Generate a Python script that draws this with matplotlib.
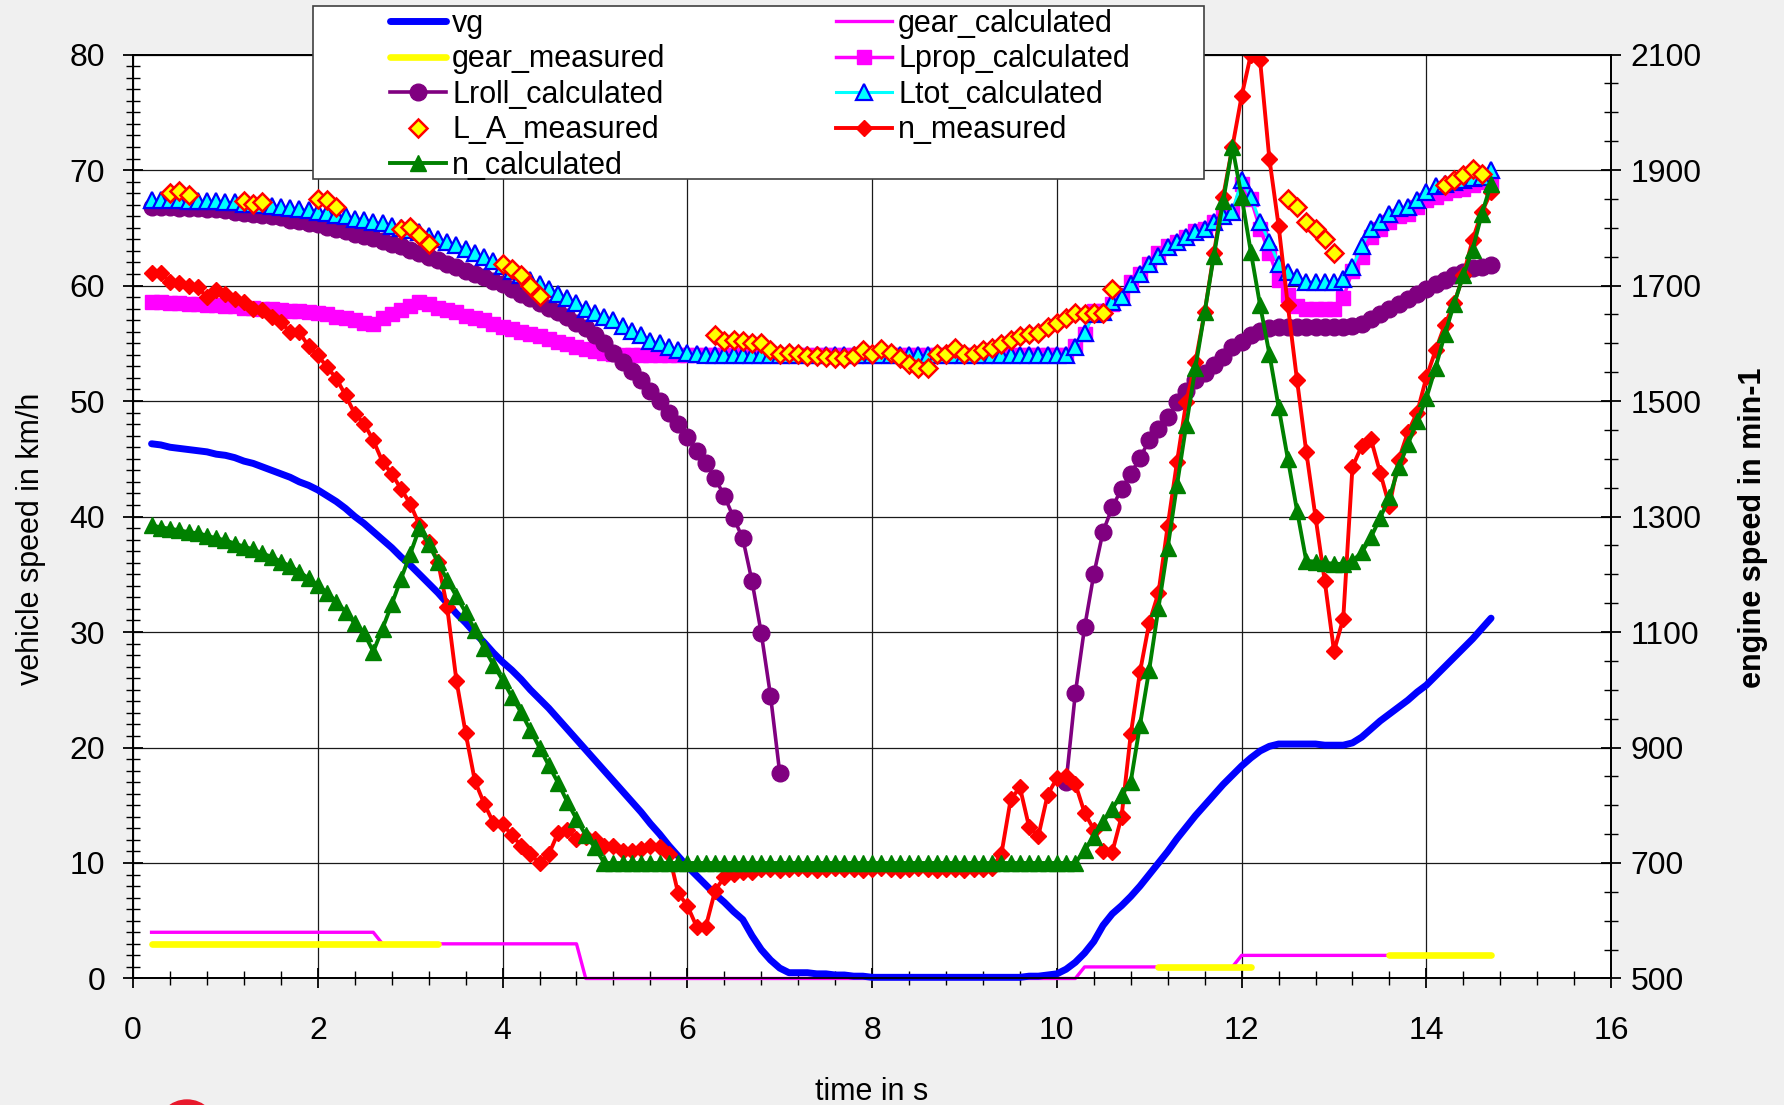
import numpy as np
import matplotlib
matplotlib.use("Agg")
import matplotlib.pyplot as plt
from matplotlib.ticker import MultipleLocator
from matplotlib.patches import Rectangle, Ellipse

plt.rcParams['font.family'] = ['Liberation Sans', 'DejaVu Sans']

nan = np.nan

# sample grid: 0.1 s steps from 0.2 s to 14.7 s
time = np.round(np.arange(0.2, 14.75, 0.1), 1)

# vehicle speed in km/h
vg = [46.3, 46.2, 46.0, 45.9, 45.8, 45.7, 45.6, 45.4, 45.3, 45.1,
      44.8, 44.6, 44.3, 44.0, 43.7, 43.4, 43.0, 42.7, 42.3, 41.8,
      41.3, 40.7, 40.0, 39.4, 38.7, 38.0, 37.3, 36.5, 35.8, 35.0,
      34.2, 33.4, 32.5, 31.6, 30.8, 29.9, 29.1, 28.2, 27.4, 26.7,
      25.9, 25.0, 24.2, 23.4, 22.5, 21.6, 20.7, 19.8, 18.9, 18.0,
      17.1, 16.2, 15.3, 14.4, 13.4, 12.5, 11.5, 10.6, 9.7, 8.9,
      8.1, 7.3, 6.6, 5.8, 5.1, 3.7, 2.5, 1.6, 0.9, 0.5,
      0.5, 0.5, 0.4, 0.4, 0.3, 0.3, 0.2, 0.2, 0.1, 0.1,
      0.1, 0.1, 0.1, 0.1, 0.1, 0.1, 0.1, 0.1, 0.1, 0.1,
      0.1, 0.1, 0.1, 0.1, 0.1, 0.2, 0.2, 0.3, 0.4, 0.8,
      1.4, 2.2, 3.2, 4.6, 5.6, 6.3, 7.1, 8.0, 9.0, 10.0,
      11.0, 12.1, 13.1, 14.1, 15.0, 15.9, 16.8, 17.6, 18.4, 19.1,
      19.7, 20.1, 20.3, 20.3, 20.3, 20.3, 20.3, 20.2, 20.2, 20.2,
      20.4, 20.9, 21.6, 22.3, 22.9, 23.5, 24.1, 24.8, 25.4, 26.2,
      27.0, 27.8, 28.6, 29.4, 30.3, 31.2]

gear_calculated = [4] * 25 + [3] * 22 + [0] * 54 + [1] * 17 + [2] * 28
gear_measured = [3] * 32 + [nan] * 77 + [1] * 11 + [nan] * 14 + [2] * 12

Lprop_calculated = [
    58.6, 58.6, 58.5, 58.5, 58.4, 58.4, 58.3, 58.3, 58.2, 58.2,
    58.1, 58.1, 58.0, 58.0, 57.9, 57.8, 57.8, 57.7, 57.6, 57.5,
    57.3, 57.2, 57.0, 56.8, 56.7, 57.2, 57.5, 57.9, 58.2, 58.6,
    58.4, 58.1, 57.9, 57.7, 57.4, 57.2, 57.0, 56.7, 56.4, 56.2,
    56.0, 55.8, 55.6, 55.4, 55.1, 54.9, 54.7, 54.5, 54.3, 54.2,
    54.1, 54.0, 54.0, 54.0, 54.0, 54.0, 54.0, 54.0, 54.0, 54.0] + [54.0] * 40 + [
    54.8, 55.8, 57.8, 57.8, 58.4, 59.2, 60.3, 61.0, 61.9, 62.8,
    63.4, 63.8, 64.2, 64.7, 64.9, 65.5, 66.0, 66.4, 68.8, 67.5,
    64.9, 62.8, 60.5, 59.2, 58.2, 58.0, 58.0, 58.0, 58.0, 58.9,
    61.3, 62.5, 64.2, 64.9, 65.5, 66.0, 66.2, 66.8, 67.4, 67.7,
    68.0, 68.3, 68.4, 68.7, 69.0, 69.0]

Lroll_calculated = [
    66.8, 66.8, 66.8, 66.7, 66.7, 66.7, 66.6, 66.6, 66.5, 66.4,
    66.3, 66.2, 66.1, 66.0, 65.9, 65.7, 65.6, 65.4, 65.3, 65.1,
    64.9, 64.7, 64.5, 64.3, 64.1, 63.9, 63.6, 63.4, 63.1, 62.8,
    62.5, 62.2, 61.9, 61.6, 61.3, 61.0, 60.7, 60.4, 60.1, 59.7,
    59.3, 58.9, 58.5, 58.1, 57.7, 57.3, 56.8, 56.3, 55.7, 55.0,
    54.2, 53.4, 52.6, 51.8, 50.9, 50.0, 49.0, 48.0, 46.9, 45.7,
    44.6, 43.3, 41.8, 39.9, 38.1, 34.4, 29.9, 24.5, 17.8, nan] + [nan] * 29 + [
    17.0,
    24.7, 30.4, 35.0, 38.7, 40.8, 42.4, 43.7, 45.1, 46.6, 47.6,
    48.6, 49.9, 50.9, 51.8, 52.4, 53.1, 53.8, 54.7, 55.1, 55.7,
    56.1, 56.3, 56.4, 56.4, 56.4, 56.4, 56.4, 56.4, 56.4, 56.4,
    56.5, 56.7, 57.1, 57.5, 58.0, 58.4, 58.8, 59.3, 59.7, 60.1,
    60.5, 60.9, 61.2, 61.5, 61.6, 61.8]

Ltot_calculated = [
    67.4, 67.4, 67.4, 67.4, 67.3, 67.3, 67.3, 67.3, 67.2, 67.2,
    67.1, 67.1, 67.0, 66.9, 66.8, 66.7, 66.6, 66.5, 66.4, 66.3,
    66.1, 66.0, 65.8, 65.7, 65.5, 65.4, 65.2, 65.0, 64.8, 64.6,
    64.3, 64.0, 63.8, 63.5, 63.2, 62.8, 62.5, 62.1, 61.7, 61.3,
    60.9, 60.5, 60.1, 59.7, 59.3, 58.9, 58.5, 58.0, 57.6, 57.3,
    57.0, 56.5, 56.1, 55.7, 55.2, 55.0, 54.7, 54.4, 54.2, 54.1] + [54.0] * 40 + [
    54.7, 55.9, 57.5, 57.7, 58.6, 59.0, 60.1, 61.0, 61.9, 62.6,
    63.3, 63.8, 64.2, 64.6, 64.9, 65.5, 66.0, 66.4, 69.1, 67.7,
    65.5, 63.8, 61.9, 61.2, 60.7, 60.3, 60.3, 60.3, 60.3, 60.6,
    61.6, 63.4, 64.9, 65.5, 66.2, 66.7, 66.8, 67.4, 68.1, 68.6,
    68.8, 69.0, 69.1, 69.3, 69.4, 70.0]

L_A_measured = [
    nan, nan, 68.0, 68.2, 67.8, nan, nan, nan, nan, nan,
    67.3, 67.1, 67.2, nan, nan, nan, nan, nan, 67.5, 67.4,
    66.8, nan, nan, nan, nan, nan, nan, 64.9, 65.1, 64.4,
    63.6, nan, nan, nan, nan, nan, nan, nan, 61.9, 61.4,
    60.9, 60.0, 59.1, nan, nan, nan, nan, nan, nan, nan,
    nan, nan, nan, nan, nan, nan, nan, nan, nan, nan,
    nan, 55.7, 55.2, 55.3, 55.2, 55.0, 55.0, 54.4, 54.1, 54.2,
    54.1, 53.9, 53.9, 53.8, 53.7, 53.7, 53.9, 54.4, 54.1, 54.5,
    54.2, 53.7, 53.2, 52.9, 52.9, 54.1, 54.1, 54.6, 54.1, 54.1,
    54.4, 54.6, 54.9, 55.3, 55.6, 55.8, 55.9, 56.4, 56.8, 57.2,
    57.6, 57.5, 57.6, 57.6, 59.7, nan, nan, nan, nan, nan,
    nan, nan, nan, nan, nan, nan, nan, nan, nan, nan,
    nan, nan, nan, 67.5, 66.8, 65.5, 64.9, 64.0, 62.8, nan,
    nan, nan, nan, nan, nan, nan, nan, nan, nan, nan,
    68.7, 69.1, 69.6, 70.1, 69.7, nan]

# engine speed in min-1
n_measured = [
    1722, 1722, 1706, 1704, 1700, 1697, 1680, 1693, 1686, 1677,
    1671, 1660, 1657, 1646, 1637, 1619, 1619, 1595, 1579, 1559,
    1539, 1510, 1478, 1461, 1432, 1395, 1374, 1348, 1322, 1285,
    1256, 1222, 1143, 1016, 925, 842, 803, 770, 768, 748,
    730, 715, 700, 715, 752, 757, 742, 745, 742, 730,
    730, 721, 721, 724, 730, 728, 716, 648, 626, 590,
    590, 652, 676, 681, 684, 684, 690, 690, 688, 690,
    692, 690, 688, 690, 692, 690, 690, 688, 690, 692,
    690, 688, 690, 692, 690, 688, 690, 690, 688, 690,
    690, 692, 716, 810, 831, 762, 747, 818, 847, 850,
    837, 787, 758, 721, 719, 780, 923, 1031, 1116, 1168,
    1284, 1394, 1498, 1568, 1654, 1756, 1854, 1940, 2028, 2100,
    2090, 1920, 1804, 1666, 1536, 1412, 1299, 1188, 1067, 1123,
    1386, 1422, 1434, 1376, 1318, 1398, 1446, 1480, 1541, 1588,
    1632, 1669, 1718, 1779, 1827, 1862]

n_calculated = [
    1285, 1281, 1279, 1276, 1273, 1271, 1267, 1262, 1259, 1253,
    1248, 1243, 1236, 1230, 1222, 1214, 1204, 1193, 1181, 1168,
    1152, 1135, 1115, 1098, 1066, 1106, 1148, 1192, 1235, 1280,
    1252, 1221, 1190, 1162, 1134, 1104, 1072, 1043, 1017, 988,
    961, 930, 900, 869, 839, 806, 776, 748, 727, 700] + [700] * 50 + [
    700, 722, 745, 771, 794, 818, 841, 939, 1035, 1142,
    1246, 1354, 1458, 1558, 1654, 1752, 1846, 1940, 1854, 1758,
    1666, 1582, 1490, 1400, 1310, 1223, 1222, 1220, 1218, 1218,
    1223, 1238, 1264, 1298, 1333, 1385, 1425, 1465, 1505, 1558,
    1616, 1668, 1718, 1762, 1824, 1876]

rpm_ticks = [500, 700, 900, 1100, 1300, 1500, 1700, 1900, 2100]

fig = plt.figure(figsize=(17.84, 11.05), dpi=100, facecolor='#f0f0f0')
ax = fig.add_axes([0.0746, 0.1145, 0.8285, 0.8361])
ax.set_facecolor('white')

# gear and speed lines sit on the bottom spine, so draw them over it
h_vg, = ax.plot(time, vg, color='#0000ff', lw=5, solid_capstyle='round', label='vg',
                clip_on=False, zorder=2.7)
h_gc, = ax.plot(time, gear_calculated, color='#ff00ff', lw=2.4, label='gear_calculated',
                clip_on=False, zorder=2.6)
h_gm, = ax.plot(time, gear_measured, color='#ffff00', lw=4.8, solid_capstyle='round',
                label='gear_measured', zorder=2.65)
h_lp, = ax.plot(time, Lprop_calculated, color='#ff00ff', lw=2.5, marker='s', ms=10,
                label='Lprop_calculated')
h_lr, = ax.plot(time, Lroll_calculated, color='#800080', lw=2.6, marker='o', ms=12,
                label='Lroll_calculated')
h_lt, = ax.plot(time, Ltot_calculated, color='#00ffff', lw=2.2, marker='^', ms=11,
                mfc='#00ffff', mec='#0000ff', mew=1.6, label='Ltot_calculated')
h_la, = ax.plot(time, L_A_measured, ls='none', marker='D', ms=9.5, mfc='#ffff00',
                mec='#ff0000', mew=1.8, label='L_A_measured')

ax.set_xlim(0, 16)
ax.set_ylim(0, 80)
ax.xaxis.set_major_locator(MultipleLocator(2))
ax.xaxis.set_minor_locator(MultipleLocator(0.4))
ax.yaxis.set_major_locator(MultipleLocator(10))
ax.yaxis.set_minor_locator(MultipleLocator(1))
ax.grid(True, which='major', color='#1a1a1a', lw=0.9)
for s in ax.spines.values():
    s.set_color('black')
    s.set_linewidth(1.3)
ax.tick_params(which='major', direction='inout', length=14, width=1.3, labelsize=23)
ax.tick_params(which='minor', direction='inout', length=10, width=1.0)
ax.tick_params(axis='x', pad=20)
ax.tick_params(axis='y', pad=13)

ax2 = ax.twinx()
h_nm, = ax2.plot(time, n_measured, color='#ff0000', lw=2.8, marker='D', ms=8.5,
                 label='n_measured')
h_nc, = ax2.plot(time, n_calculated, color='#008000', lw=2.8, marker='^', ms=11,
                 label='n_calculated')
ax2.set_ylim(500, 2100)
ax2.set_yticks(rpm_ticks)
ax2.yaxis.set_minor_locator(MultipleLocator(50))
ax2.tick_params(which='major', direction='inout', length=14, width=1.3, labelsize=23, pad=7)
ax2.tick_params(which='minor', direction='inout', length=10, width=1.0)
for s in ax2.spines.values():
    s.set_color('black')
    s.set_linewidth(1.3)

ax.set_xlabel('time in s', fontsize=22)
ax.xaxis.set_label_coords(0.5, -0.1229)
ax.xaxis.label.set_va('center')
ax.set_ylabel('vehicle speed in km/h', fontsize=22)
ax.yaxis.set_label_coords(-0.0693, 0.476)
ax.yaxis.label.set_va('center')
ax2.set_ylabel('engine speed in min-1', fontsize=22, fontweight='bold')
ax2.yaxis.set_label_coords(1.096, 0.488)
ax2.yaxis.label.set_va('center')

# legend box drawn by hand, two columns placed inside it
fig.add_artist(Rectangle((0.1754, 0.8384), 0.4994, 0.1565, transform=fig.transFigure,
                         facecolor='white', edgecolor='#404040', lw=1.2, zorder=4))
leg_kw = dict(loc='upper left', frameon=False, fontsize=22, handlelength=1.83,
              handletextpad=0.2, labelspacing=0.18, borderpad=0, borderaxespad=0)
col1 = [h_vg, h_gm, h_lr, h_la, h_nc]
col2 = [h_gc, h_lp, h_lt, h_nm]
fig.legend(col1, [h.get_label() for h in col1], bbox_to_anchor=(0.2186, 0.9919), **leg_kw)
fig.legend(col2, [h.get_label() for h in col2], bbox_to_anchor=(0.4686, 0.9919), **leg_kw)

# logo fragment at the bottom edge
fig.add_artist(Ellipse((187 / 1784, 1 - 1130 / 1105), 60 / 1784, 60 / 1105,
                       transform=fig.transFigure, color='#e8192c', zorder=3))
fig.add_artist(Ellipse((187 / 1784, 1 - 1124 / 1105), 36 / 1784, 36 / 1105,
                       transform=fig.transFigure, color='white', zorder=3))

fig.savefig('out.png', dpi=100, facecolor=fig.get_facecolor())
